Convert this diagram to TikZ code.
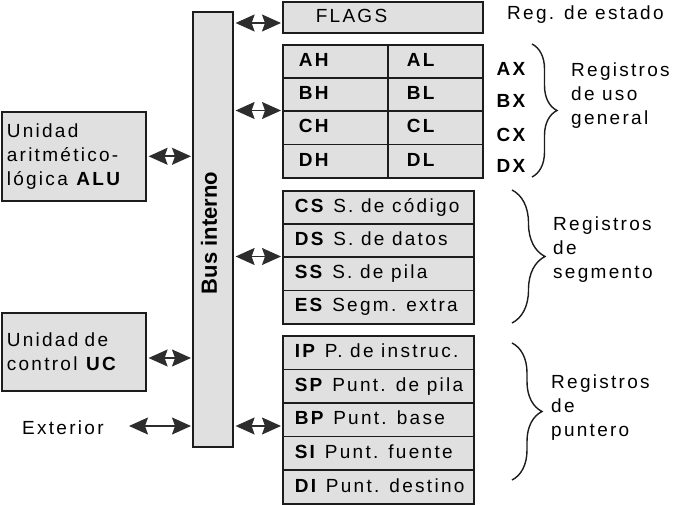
\documentclass[tikz,border=0pt]{standalone}
\usepackage{fontspec}
\setmainfont{Liberation Sans}[LetterSpace=12]
\newfontfamily\busfont{Liberation Sans}
\usetikzlibrary{arrows.meta,decorations.pathreplacing,calc}
\definecolor{boxgray}{RGB}{224,224,224}
\definecolor{edge}{RGB}{28,28,28}
\definecolor{headgray}{RGB}{45,45,45}
\newcommand\rowtxt[2]{\makebox[#1][l]{\rule[-3.5pt]{0pt}{17pt}#2}}
\begin{document}
\begin{tikzpicture}[x=1pt,y=-1pt,
  every node/.style={font=\fontsize{19}{24}\selectfont, inner sep=0pt},
  frame/.style={draw=edge, line width=1.6pt, fill=boxgray},
  cell/.style 2 args={frame, anchor=north west, minimum width=#1, minimum height=#2, inner xsep=0pt},
  unit/.style={frame, anchor=north west, align=left, inner xsep=5pt},
  reglab/.style={anchor=west, align=left},
  biarrow/.style={arrows={Stealth[length=19pt 0 0,width=17pt 0 0,inset=3pt]-Stealth[length=19pt 0 0,width=17pt 0 0,inset=3pt]}, line width=1.6pt, draw=headgray, shorten <=2pt, shorten >=1pt},
  brace/.style={decorate, decoration={brace, amplitude=#1}, line width=1.4pt, draw=edge}
]
\useasboundingbox (0,0) rectangle (673,505);

% bus
\node[frame, anchor=north west, minimum width=40pt, minimum height=435pt] (bus) at (192,11) {};
\node[rotate=90, font=\busfont\bfseries\fontsize{22}{24}\selectfont] (bustext) at (209,233) {Bus interno};

% flags
\node[cell={200pt}{31pt}] (flags) at (282,1) {\hspace*{31pt}\rowtxt{165pt}{FLAGS}};
\node[reglab] (estado) at (507,15) {Reg. de estado};

% general purpose registers
\node[cell={105pt}{33.25pt}] (ah) at (282,44) {\hspace*{15pt}\rowtxt{88pt}{\textbf{AH}}};
\node[cell={95pt}{33.25pt}] (al) at (387,44) {\hspace*{18pt}\rowtxt{75pt}{\textbf{AL}}};
\node[cell={105pt}{33.25pt}] (bh) at (282,77.25) {\hspace*{15pt}\rowtxt{88pt}{\textbf{BH}}};
\node[cell={95pt}{33.25pt}] (bl) at (387,77.25) {\hspace*{18pt}\rowtxt{75pt}{\textbf{BL}}};
\node[cell={105pt}{33.25pt}] (ch) at (282,110.5) {\hspace*{15pt}\rowtxt{88pt}{\textbf{CH}}};
\node[cell={95pt}{33.25pt}] (cl) at (387,110.5) {\hspace*{18pt}\rowtxt{75pt}{\textbf{CL}}};
\node[cell={105pt}{33.25pt}] (dh) at (282,143.75) {\hspace*{15pt}\rowtxt{88pt}{\textbf{DH}}};
\node[cell={95pt}{33.25pt}] (dl) at (387,143.75) {\hspace*{18pt}\rowtxt{75pt}{\textbf{DL}}};

\node[font=\bfseries\fontsize{19}{20}\selectfont] (ax) at (511,69) {AX};
\node[font=\bfseries\fontsize{19}{20}\selectfont] (bx) at (511,101) {BX};
\node[font=\bfseries\fontsize{19}{20}\selectfont] (cx) at (511,135) {CX};
\node[font=\bfseries\fontsize{19}{20}\selectfont] (dx) at (511,166) {DX};

\coordinate (gtop) at (532,44);
\coordinate (gbot) at (532,177);
\draw[brace=25pt] (gtop) -- (gbot);
\node[reglab] (glab) at (571,96) {Registros\\de uso\\general};

% segment registers
\node[cell={191pt}{33.25pt}] (cs) at (282,190) {\hspace*{11pt}\rowtxt{178pt}{\textbf{CS} S. de código}};
\node[cell={191pt}{33.25pt}] (ds) at (282,223.25) {\hspace*{11pt}\rowtxt{178pt}{\textbf{DS} S. de datos}};
\node[cell={191pt}{33.25pt}] (ss) at (282,256.5) {\hspace*{11pt}\rowtxt{178pt}{\textbf{SS} S. de pila}};
\node[cell={191pt}{33.25pt}] (es) at (282,289.75) {\hspace*{11pt}\rowtxt{178pt}{\textbf{ES} Segm. extra}};

\coordinate (stop) at (512,190);
\coordinate (sbot) at (512,323);
\draw[brace=33pt] (stop) -- (sbot);
\node[reglab] (slab) at (553,250) {Registros\\de\\segmento};

% pointer registers
\node[cell={191pt}{33.6pt}] (ip) at (282,335) {\hspace*{11pt}\rowtxt{178pt}{\textbf{IP} P. de instruc.}};
\node[cell={191pt}{33.6pt}] (sp) at (282,368.6) {\hspace*{11pt}\rowtxt{178pt}{\textbf{SP} Punt. de pila}};
\node[cell={191pt}{33.6pt}] (bp) at (282,402.2) {\hspace*{11pt}\rowtxt{178pt}{\textbf{BP} Punt. base}};
\node[cell={191pt}{33.6pt}] (si) at (282,435.8) {\hspace*{11pt}\rowtxt{178pt}{\textbf{SI} Punt. fuente}};
\node[cell={191pt}{33.6pt}] (di) at (282,469.4) {\hspace*{11pt}\rowtxt{178pt}{\textbf{DI} Punt. destino}};

\coordinate (ptop) at (512,343);
\coordinate (pbot) at (512,480);
\draw[brace=30pt] (ptop) -- (pbot);
\node[reglab] (plab) at (551,408) {Registros\\de\\puntero};

% units
\node[unit, text width=134pt, minimum height=89pt] (alu) at (1,111) {Unidad\\aritmético-\\lógica \textbf{ALU}};
\node[unit, text width=134pt, minimum height=78pt] (uc) at (1,312) {Unidad de\\control \textbf{UC}};
\node[anchor=west] (ext) at (22,428) {Exterior};
\coordinate (extend) at (127,426);

% connectors
\draw[biarrow] (bus.east |- 0,23) -- (flags.west |- 0,23);
\draw[biarrow] (bus.east |- ch.north west) -- (ch.north west);
\draw[biarrow] (alu.east) -- (bus.west |- alu.east);
\draw[biarrow] (bus.east |- ss.north west) -- (ss.north west);
\draw[biarrow] (uc.east |- 0,358) -- (bus.west |- 0,358);
\draw[biarrow] (extend) -- (bus.west |- extend);
\draw[biarrow] (bus.east |- 0,426) -- (bp.west |- 0,426);
\end{tikzpicture}
\end{document}
